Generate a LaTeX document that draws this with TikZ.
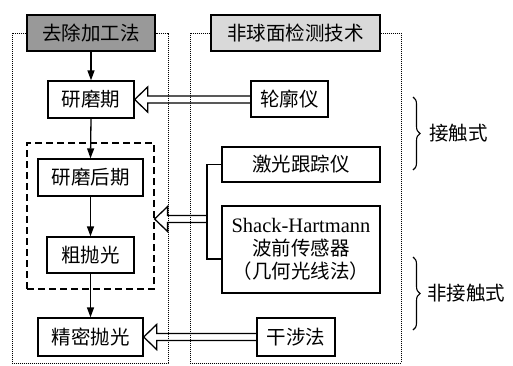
\documentclass[tikz,border=0pt]{standalone}
\usepackage{fontspec}
\setmainfont{Liberation Serif}
\newfontfamily\cjk{Noto Sans CJK SC}
\usetikzlibrary{arrows.meta,decorations.pathreplacing,calc}
\definecolor{hdA}{gray}{0.6}
\definecolor{hdB}{gray}{0.85}
\tikzset{
  box/.style={draw, line width=1.3pt, inner sep=0pt, font=\cjk\fontsize{19.5}{23}\selectfont},
  frame/.style={line width=1pt, dash pattern=on 1pt off 1pt},
  flow/.style={line width=1.3pt, -{Triangle[length=10pt,width=7pt]}},
  hol/.style={line width=1.3pt, line join=miter},
  brc/.style={line width=1.1pt, decorate, decoration={brace, amplitude=7pt}},
  lbl/.style={anchor=west, inner sep=0pt, font=\cjk\fontsize{19.5}{23}\selectfont}
}
\newcommand\hollowarrow[2]{%
  \draw[hol] let \p1=(#1), \p2=(#2) in
    (\x2,\y1+3.5pt) -- (\x1+13pt,\y1+3.5pt) -- (\x1+13pt,\y1+12.5pt) -- (\x1,\y1)
    -- (\x1+13pt,\y1-12.5pt) -- (\x1+13pt,\y1-3.5pt) -- (\x2,\y1-3.5pt);}
\begin{document}
\begin{tikzpicture}[x={(1pt,0pt)}, y={(0pt,-1pt)}]
\useasboundingbox (0,0) rectangle (513,365);

% headers
\node[box, fill=hdA, minimum width=128pt, minimum height=36pt] (h1) at (91,33) {去除加工法};
\node[box, fill=hdB, minimum width=169pt, minimum height=36pt] (h2) at (295.5,33) {非球面检测技术};

% dotted frames
\draw[frame] (h1.west) -- (12,33) -- (12,363) -- (168,363) -- (168,33) -- (h1.east);
\draw[frame] (h2.west) -- (190,33) -- (190,363) -- (401,363) -- (401,33) -- (h2.east);

% left column
\node[box, minimum width=86pt, minimum height=37pt] (ym) at (91,99.5) {研磨期};
\node[draw, line width=1.2pt, dash pattern=on 7pt off 4pt, minimum width=127pt, minimum height=146pt, inner sep=0pt] (db) at (90.5,216) {};
\node[box, minimum width=105pt, minimum height=37pt] (yh) at (90.5,177.5) {研磨后期};
\node[box, minimum width=87pt, minimum height=36pt] (cp) at (90.5,255) {粗抛光};
\node[box, minimum width=105pt, minimum height=38pt] (jm) at (90.5,337) {精密抛光};

% right column
\node[box, minimum width=77pt, minimum height=36pt] (lk) at (289.5,99) {轮廓仪};
\node[box, minimum width=158pt, minimum height=87pt, align=center] (sh) at (301,249.5)
  {{\rmfamily\fontsize{20.5}{23}\selectfont Shack-Hartmann}\\波前传感器\\（几何光线法）};
\node[box, minimum width=158pt, minimum height=35pt] (jg) at (301,164.5) {激光跟踪仪};
\node[box, minimum width=78pt, minimum height=38pt] (gs) at (296,337) {干涉法};

% flow arrows
\draw[flow] (h1.south) -- (ym.north);
\draw[flow] (ym.south) -- (yh.north);
\draw[flow] (yh.south) -- (cp.north);
\draw[flow] (cp.south) -- (jm.north);

% bracket
\coordinate (bt) at (207,259);
\coordinate (bm) at (207,219);
\draw[line width=1.3pt] (jg.west) -| (bt) -- (sh.west |- bt);

% hollow arrows
\hollowarrow{ym.east}{lk.west}
\coordinate (dtip) at (db.east |- bm);
\hollowarrow{dtip}{bm}
\hollowarrow{jm.east}{gs.west}

% braces and labels
\draw[brc] (413,97) -- (413,170);
\node[lbl] (c1) at (429,133) {接触式};
\draw[brc] (413,257) -- (413,330);
\node[lbl] (c2) at (427,293) {非接触式};
\end{tikzpicture}
\end{document}
